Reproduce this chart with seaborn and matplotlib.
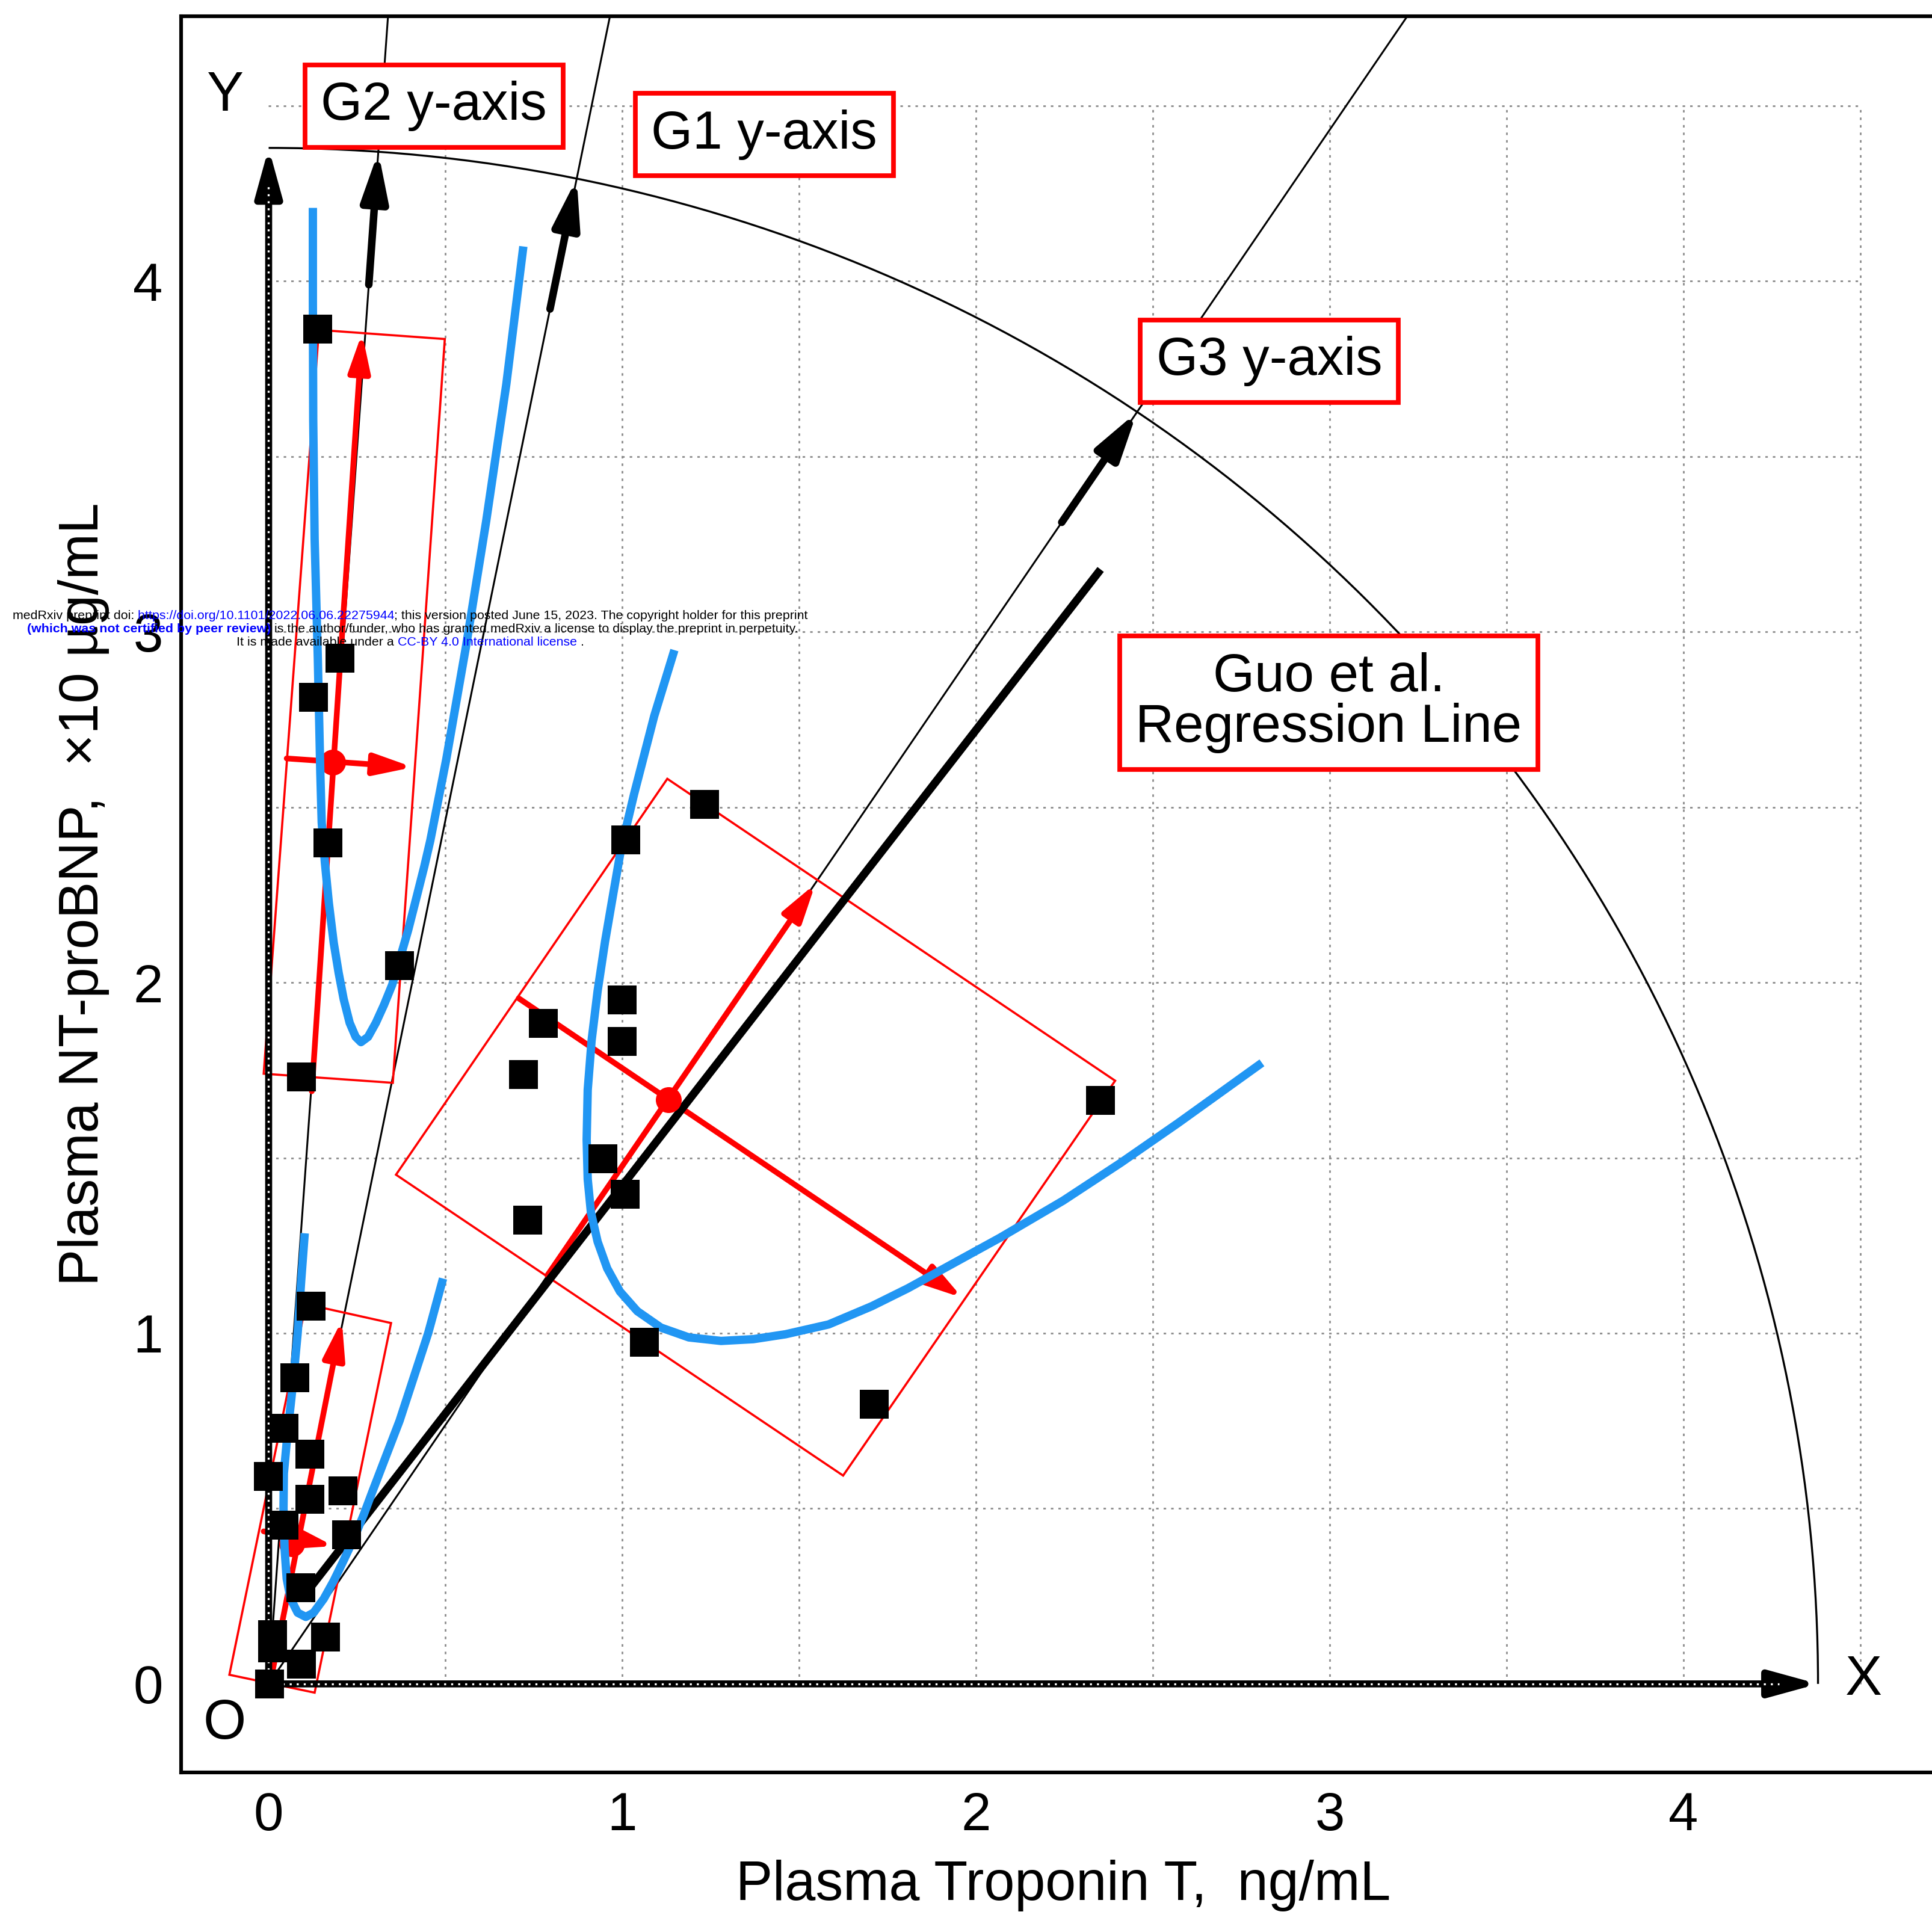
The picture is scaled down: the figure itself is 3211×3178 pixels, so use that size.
import numpy as np
import pandas as pd
import matplotlib
matplotlib.use("Agg")
import matplotlib.pyplot as plt
from matplotlib.patches import Arc, Polygon
import seaborn as sns

# ---- data ----
g1_x = [0.120, 0.074, 0.044, 0.116, 0.000, 0.116, 0.210, 0.043, 0.221, 0.091, 0.011, 0.011, 0.161, 0.093, 0.003]
g1_y = [1.078, 0.873, 0.729, 0.655, 0.591, 0.527, 0.550, 0.453, 0.426, 0.275, 0.140, 0.103, 0.134, 0.056, 0.000]

g2_x = [0.138, 0.201, 0.126, 0.168, 0.370, 0.092]
g2_y = [3.864, 2.925, 2.813, 2.398, 2.048, 1.731]

g3_x = [1.233, 1.010, 1.000, 0.777, 1.000, 0.721, 2.352, 0.945, 1.008, 0.733, 1.063, 1.712]
g3_y = [2.508, 2.406, 1.950, 1.884, 1.832, 1.738, 1.664, 1.498, 1.396, 1.323, 0.975, 0.798]

# blue curves
curve_g1_x = [0.102, 0.092, 0.082, 0.068, 0.052, 0.043, 0.042, 0.045, 0.051, 0.062, 0.082,
              0.105, 0.127, 0.156, 0.184, 0.212, 0.241, 0.269, 0.292, 0.370, 0.451, 0.493]
curve_g1_y = [1.285, 1.150, 1.000, 0.850, 0.700, 0.600, 0.500, 0.386, 0.300, 0.243, 0.203,
              0.191, 0.203, 0.243, 0.294, 0.352, 0.415, 0.483, 0.545, 0.750, 1.000, 1.156]

curve_g2_x = [0.125, 0.125, 0.126, 0.130, 0.139, 0.146, 0.150, 0.159, 0.170, 0.184, 0.198,
              0.212, 0.229, 0.246, 0.261, 0.281, 0.303, 0.326, 0.349, 0.371, 0.394, 0.417,
              0.440, 0.457, 0.502, 0.558, 0.615, 0.672, 0.720]
curve_g2_y = [4.209, 3.946, 3.605, 3.265, 2.925, 2.600, 2.456, 2.342, 2.228, 2.113, 2.027,
              1.953, 1.885, 1.845, 1.830, 1.845, 1.885, 1.936, 1.993, 2.068, 2.148, 2.239,
              2.331, 2.405, 2.636, 2.959, 3.316, 3.707, 4.099]

curve_g3_x = [1.147, 1.090, 1.033, 0.996, 0.975, 0.951, 0.930, 0.913, 0.902, 0.899, 0.902,
              0.911, 0.930, 0.957, 0.993, 1.042, 1.109, 1.188, 1.279, 1.370, 1.461, 1.583,
              1.705, 1.807, 2.067, 2.246, 2.409, 2.572, 2.808]
curve_g3_y = [2.948, 2.760, 2.537, 2.380, 2.258, 2.117, 1.976, 1.835, 1.694, 1.552, 1.439,
              1.345, 1.261, 1.185, 1.119, 1.063, 1.016, 0.988, 0.978, 0.983, 0.997, 1.025,
              1.077, 1.128, 1.272, 1.378, 1.486, 1.600, 1.771]

# group centres (red dots)
center_x = [0.065, 0.181, 1.130]
center_y = [0.400, 2.628, 1.665]

# red principal-axis arrows: start and tip
arrow_x0 = [0.009, -0.014, 0.122, 0.051, 0.788, 0.707]
arrow_y0 = [0.026, 0.435, 1.690, 2.639, 1.165, 1.955]
arrow_x1 = [0.207, 0.184, 0.264, 0.408, 1.546, 1.961]
arrow_y1 = [1.037, 0.393, 3.852, 2.614, 2.282, 1.101]

# red rectangles (corners)
box_g1_x = [0.105, 0.346, 0.130, -0.111]
box_g1_y = [1.083, 1.029, -0.025, 0.026]
box_g2_x = [0.142, 0.498, 0.351, -0.014]
box_g2_y = [3.861, 3.835, 1.714, 1.740]
box_g3_x = [1.127, 2.393, 1.624, 0.360]
box_g3_y = [2.581, 1.720, 0.594, 1.452]

# rotated y-axes (tip points on the arc): G2, G1, G3
axis_tip_x = [0.310, 0.871, 2.455]
axis_tip_y = [4.369, 4.293, 3.627]
arc_radius = 4.38
thick_start = 4.0

# Guo et al. regression line
reg_x = [0.095, 2.352]
reg_y = [0.245, 3.178]

grid_vals = [0.5, 1.0, 1.5, 2.0, 2.5, 3.0, 3.5, 4.0, 4.5]
tick_vals = [0, 1, 2, 3, 4]

BLUE = "#2196f3"
RED = "#ff0000"

sns.set_theme(style="white")
plt.rcParams["font.family"] = ["Liberation Sans", "DejaVu Sans"]
plt.rcParams["text.color"] = "black"
plt.rcParams["axes.labelcolor"] = "black"
plt.rcParams["xtick.color"] = "black"
plt.rcParams["ytick.color"] = "black"

fig = plt.figure(figsize=(16.06, 15.89), dpi=200)
ax = fig.add_axes([0.0938, 0.0729, 0.9128, 0.9187])
ax.set_xlim(-0.247, 4.74)
ax.set_ylim(-0.253, 4.756)

# dotted grid inside [0, 4.5]
ax.vlines(grid_vals, 0, 4.5, colors="#8c8c8c", lw=1.0, linestyles=(0, (1.5, 3)), zorder=0.5)
ax.hlines(grid_vals, 0, 4.5, colors="#8c8c8c", lw=1.0, linestyles=(0, (1.5, 3)), zorder=0.5)

# quarter circle
ax.add_patch(Arc((0, 0), 2 * arc_radius, 2 * arc_radius, theta1=0, theta2=90,
                 color="black", lw=1.2, zorder=1))

# thin lines from the origin through the rotated axes, thick arrow at the arc
for tx, ty in zip(axis_tip_x, axis_tip_y):
    k = 5.2 / ty
    ax.plot([0, tx * k], [0, ty * k], color="black", lw=1.1, zorder=1)
    f = thick_start / arc_radius
    ax.annotate("", xy=(tx, ty), xytext=(tx * f, ty * f),
                arrowprops=dict(arrowstyle="-|>,head_length=2.0,head_width=0.55",
                                mutation_scale=12, lw=4.5, color="black",
                                shrinkA=0, shrinkB=0), zorder=2.5)

# main X / Y arrows (thick black with white dots)
for xe, ye in [(arc_radius, 0), (0, arc_radius)]:
    ax.annotate("", xy=(xe, ye), xytext=(0, 0),
                arrowprops=dict(arrowstyle="-|>,head_length=2.0,head_width=0.55",
                                mutation_scale=12, lw=4.2, color="black",
                                shrinkA=0, shrinkB=0), zorder=2.2)
    ax.plot([0, xe * 0.975], [0, ye * 0.975], color="white", lw=1.2,
            linestyle=(0, (1, 2.5)), zorder=2.3)

# red rectangles
for bx, by in [(box_g1_x, box_g1_y), (box_g2_x, box_g2_y), (box_g3_x, box_g3_y)]:
    ax.add_patch(Polygon(np.column_stack([bx, by]), closed=True, fill=False,
                         ec=RED, lw=1.3, zorder=1.5))

# red arrows
for x0, y0, x1, y1 in zip(arrow_x0, arrow_y0, arrow_x1, arrow_y1):
    ax.annotate("", xy=(x1, y1), xytext=(x0, y0),
                arrowprops=dict(arrowstyle="-|>,head_length=1.6,head_width=0.45",
                                mutation_scale=12, lw=3.4, color=RED,
                                shrinkA=0, shrinkB=0), zorder=2)

# regression line
ax.plot(reg_x, reg_y, color="black", lw=4.8, solid_capstyle="butt", zorder=2.6)

# group centres
sns.scatterplot(x=center_x, y=center_y, color=RED, s=240, linewidth=0, ax=ax, zorder=2.9)

# blue curves
for cx, cy in [(curve_g2_x, curve_g2_y), (curve_g3_x, curve_g3_y), (curve_g1_x, curve_g1_y)]:
    sns.lineplot(x=cx, y=cy, sort=False, estimator=None, color=BLUE, lw=5,
                 ax=ax, zorder=3, solid_capstyle="butt", solid_joinstyle="round")

# data points
pts = pd.DataFrame({
    "x": g1_x + g2_x + g3_x,
    "y": g1_y + g2_y + g3_y,
})
sns.scatterplot(data=pts, x="x", y="y", marker="s", s=300, color="black",
                linewidth=0, ax=ax, zorder=3.5)

# letters
ax.text(arc_radius + 0.13, 0.01, "X", fontsize=33, ha="center", va="center")
ax.text(-0.122, 4.527, "Y", fontsize=33, ha="center", va="center")
ax.text(-0.124, -0.115, "O", fontsize=33, ha="center", va="center")

# label boxes
box_kw = dict(boxstyle="square,pad=0.3", fc="white", ec=RED, lw=2.8)
ax.text(0.467, 4.499, "G2 y-axis", fontsize=32, ha="center", va="center", bbox=box_kw, zorder=6)
ax.text(1.401, 4.418, "G1 y-axis", fontsize=32, ha="center", va="center", bbox=box_kw, zorder=6)
ax.text(2.829, 3.772, "G3 y-axis", fontsize=32, ha="center", va="center", bbox=box_kw, zorder=6)
ax.text(2.997, 2.798, "Guo et al.\nRegression Line", fontsize=32, ha="center", va="center",
        linespacing=1.0, bbox=box_kw, zorder=6)

# axes styling
ax.set_xticks(tick_vals)
ax.set_yticks(tick_vals)
ax.tick_params(direction="in", length=10.5, width=2.2, labelsize=32, pad=11,
               top=False, right=False, colors="black")
for side in ["left", "bottom", "top"]:
    ax.spines[side].set_linewidth(2.2)
    ax.spines[side].set_color("black")
ax.spines["right"].set_visible(False)
ax.set_xlabel("Plasma Troponin T,  ng/mL", fontsize=33, labelpad=11)
ax.set_ylabel("Plasma NT-proBNP,  ×10 µg/mL", fontsize=33, labelpad=14)
ax.grid(False)

# medRxiv watermark
wm_size = 7.7
wm_lines = [
    (0.0064, 0.6750, [("medRxiv preprint doi:", "black", "normal"),
                      (" https://doi.org/10.1101/2022.06.06.22275944", "blue", "normal"),
                      ("; this version posted June 15, 2023. The copyright holder for this preprint", "black", "normal")]),
    (0.0140, 0.6680, [("(which was not certified by peer review)", "blue", "bold"),
                      (" is the author/funder, who has granted medRxiv a license to display the preprint in perpetuity.", "black", "normal")]),
    (0.1224, 0.6612, [("It is made available under a", "black", "normal"),
                      (" CC-BY 4.0 International license", "blue", "normal"),
                      (" .", "black", "normal")]),
]
for lx, ly, pieces in wm_lines:
    prev = None
    for txt, col, wt in pieces:
        if prev is None:
            prev = fig.text(lx, ly, txt, color=col, fontsize=wm_size, fontweight=wt,
                            ha="left", va="bottom", zorder=20)
        else:
            prev = ax.annotate(txt, xy=(1, 0), xycoords=prev, color=col, fontsize=wm_size,
                               fontweight=wt, ha="left", va="bottom", zorder=20,
                               annotation_clip=False)

fig.savefig("out.png", dpi=200)
